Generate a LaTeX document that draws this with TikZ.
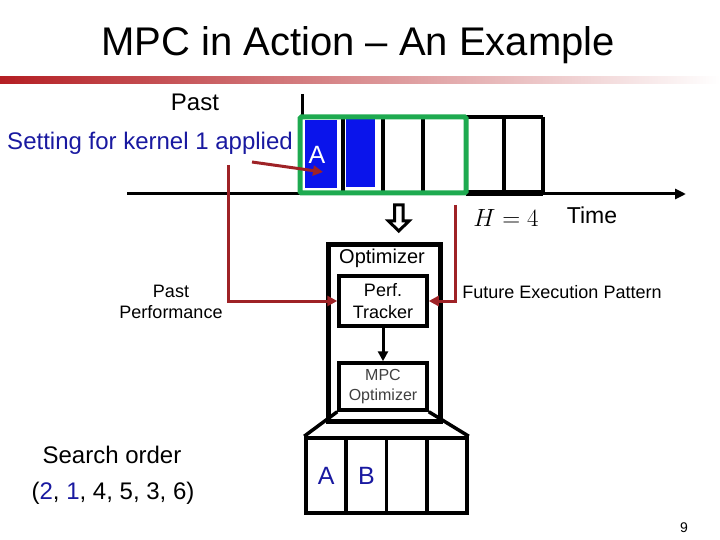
\documentclass[tikz,border=0pt]{standalone}
\usepackage[no-math]{fontspec}
\setmainfont{Liberation Sans}
\usetikzlibrary{arrows.meta}
\definecolor{darkred}{RGB}{158,34,38}
\definecolor{txtblue}{RGB}{25,25,160}
\definecolor{boxblue}{RGB}{10,20,235}
\definecolor{boxgreen}{RGB}{30,170,80}
\definecolor{barred}{RGB}{180,30,35}
\newcommand{\fs}[1]{\fontsize{#1}{#1}\selectfont}
\tikzset{
  lbl/.style={inner sep=0pt, font=\fs{24}},
  smalllbl/.style={inner sep=0pt, font=\fontsize{18}{21}\selectfont, align=center},
  blk/.style={draw=black, line width=3.5pt},
  redcon/.style={draw=darkred, line width=3pt, -{Triangle[length=10pt,width=10pt]}},
  cell/.style={draw=black, line width=3.5pt, minimum width=40.25pt, minimum height=75pt, inner sep=0pt},
}
\begin{document}
\begin{tikzpicture}[x=1pt,y=-1pt]
\useasboundingbox (0,0) rectangle (720,540);
% title
\node[inner sep=0pt, font=\fontsize{40}{46}\selectfont] (title) at (358,45) {MPC in Action -- An Example};
\shade[left color=barred, right color=white] (0,77) rectangle (720,84);
% past line and labels
\node[lbl] (past) at (195,102) {Past};
\node[lbl, text=txtblue] (setting) at (150,143) {Setting for kernel 1 applied};
\draw[line width=3pt] (302,94) -- (302,118);
% time axis
\coordinate (axstart) at (127,194);
\coordinate (axend) at (686,194);
\draw[line width=3pt, -{Triangle[length=11pt,width=10pt]}] (axstart) -- (axend);
\draw[line width=5.5pt] (466,193) -- (543,193);
% blue slots
\node[fill=boxblue, minimum width=32pt, minimum height=68pt, inner sep=0pt, anchor=north west] (sA) at (305,120) {};
\node[fill=boxblue, minimum width=29pt, minimum height=69pt, inner sep=0pt, anchor=north west] (sB) at (346,118) {};
\node[inner sep=0pt, text=white, font=\fs{25}] (Atxt) at (317,155) {A};
% slot dividers
\draw[blk] (343,117) -- (343,193);
\draw[blk] (383,117) -- (383,193);
\draw[blk] (423,117) -- (423,193);
\draw[blk] (504,117) -- (504,193);
\draw[blk] (543,117) -- (543,193);
\draw[blk] (466,117) -- (543,117);
% green horizon box
\draw[boxgreen, line width=5pt, rounded corners=1.5pt] (300,117) rectangle (466,193);
% red arrow to A
\coordinate (rs) at (252,162);
\draw[redcon] (rs) -- (323,172);
% H=4 and Time
\node[inner sep=0pt, font=\fs{24}] (H) at (506,218) {$H=4$};
\node[lbl, font=\fs{23}] (time) at (592,215) {Time};
% hollow arrow
\draw[line width=3pt, fill=white, line join=miter] (394.5,205) -- (403,205) -- (403,221) -- (409,221) -- (398.75,231) -- (388.5,221) -- (394.5,221) -- cycle;
% optimizer box
\node[draw=black, line width=4.5pt, minimum width=112pt, minimum height=177pt, inner sep=0pt, anchor=north west] (opt) at (326,242) {};
\node[inner sep=0pt, font=\fs{20}] (opttxt) at (382,258) {Optimizer};
\node[draw=black, line width=3.5pt, minimum width=88pt, minimum height=50pt, inner sep=0pt, align=center, font=\fontsize{18}{22}\selectfont] (perf) at (383,301) {Perf.\\Tracker};
\node[draw=black, line width=3.5pt, minimum width=88pt, minimum height=47pt, inner sep=0pt, align=center, text=black!75, font=\fontsize{16}{20}\selectfont, fill=white] (mpc) at (383,386.5) {MPC\\Optimizer};
\draw[line width=3pt, -{Triangle[length=10pt,width=10pt]}] (perf.south) -- (mpc.north);
% bottom cells
\node[cell, text=txtblue, font=\fs{25}] (b1) at (326.1,475.5) {A};
\node[cell, text=txtblue, font=\fs{25}] (b2) at (366.4,475.5) {B};
\node[cell] (b3) at (406.6,475.5) {};
\node[cell] (b4) at (446.9,475.5) {};
\draw[line width=3.5pt] (mpc.south west) -- (b1.north west);
\draw[line width=3.5pt] (mpc.south east) -- (b4.north east);
% red feedback connectors
\coordinate (lc) at (228,165);
\coordinate (rc) at (455,205);
\draw[redcon] (lc) |- (perf.west);
\draw[redcon] (rc) |- (perf.east);
\node[smalllbl] (pastperf) at (171,302) {Past\\Performance};
\node[smalllbl] (future) at (562,292) {Future Execution Pattern};
% search order
\node[lbl] (search) at (112,455) {Search order};
\node[lbl] (seq) at (113,493) {(\textcolor{txtblue}{2}, \textcolor{txtblue}{1}, 4, 5, 3, 6)};
\node[inner sep=0pt, font=\fs{14}] (pnum) at (684,528) {9};
\end{tikzpicture}
\end{document}
